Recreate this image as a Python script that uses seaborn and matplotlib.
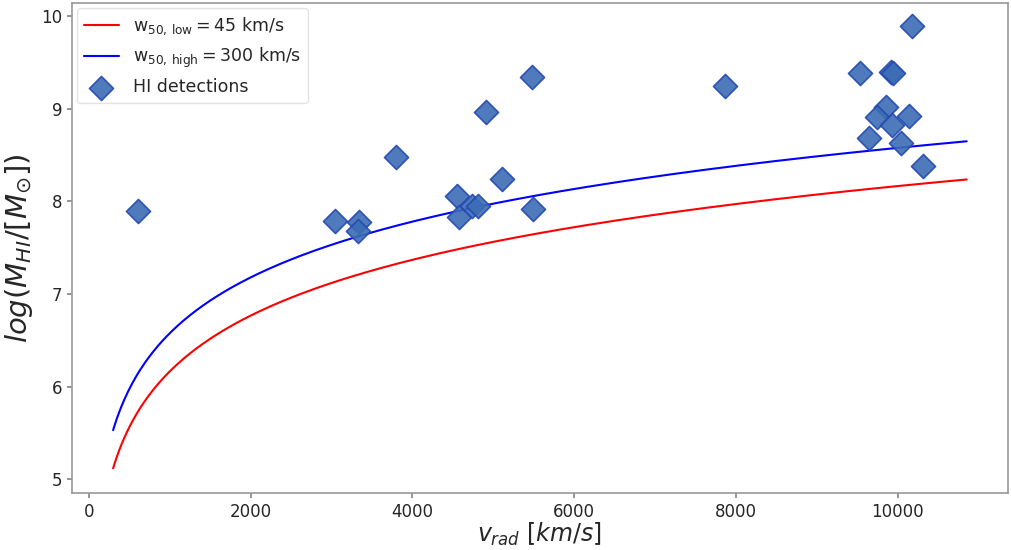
import numpy as np
import pandas as pd
import matplotlib
matplotlib.use("Agg")
import matplotlib.pyplot as plt
import seaborn as sns

# HI detections
v_rad = [606, 3040, 3336, 3324, 3793, 4547, 4572, 4733, 4807, 4906, 5103, 5474,
         5486, 7859, 9527, 9910, 9934, 9848, 9737, 10132, 9922, 9638, 10034,
         10305, 10170]
log_mhi = [7.90, 7.785, 7.774, 7.68, 8.48, 8.06, 7.83, 7.95, 7.95, 8.96, 8.24,
           9.34, 7.92, 9.24, 9.39, 9.40, 9.38, 9.02, 8.91, 8.92, 8.82, 8.68,
           8.63, 8.38, 9.89]

# detection-limit model: log M = C + 2 log v + 0.5 log w50
W50_LOW = 45
W50_HIGH = 300
LIMIT_CONST = -0.661
V_MIN, V_MAX = 300, 10850

sns.set_theme(style="ticks")
plt.rcParams['font.family'] = ['DejaVu Sans']
plt.rcParams['mathtext.fontset'] = 'dejavusans'

fig = plt.figure(figsize=(10.12, 5.5), dpi=100)
ax = fig.add_axes([0.071, 0.103, 0.925, 0.8915])

v = np.linspace(V_MIN, V_MAX, 400)
curves = pd.DataFrame({
    "v": np.concatenate([v, v]),
    "logM": np.concatenate([LIMIT_CONST + 2 * np.log10(v) + 0.5 * np.log10(W50_LOW),
                            LIMIT_CONST + 2 * np.log10(v) + 0.5 * np.log10(W50_HIGH)]),
    "curve": ["low"] * len(v) + ["high"] * len(v),
})
sns.lineplot(data=curves[curves.curve == "low"], x="v", y="logM", color="red", lw=1.5,
             ax=ax, label=r"$\mathrm{w_{50,\,low}} = 45$ km/s")
sns.lineplot(data=curves[curves.curve == "high"], x="v", y="logM", color="blue", lw=1.5,
             ax=ax, label=r"$\mathrm{w_{50,\,high}} = 300$ km/s")

det = pd.DataFrame({"v": v_rad, "logM": log_mhi})
sns.scatterplot(data=det, x="v", y="logM", marker="D", s=150, color="#3c6db5",
                edgecolor="#2448b0", linewidth=1.2, alpha=0.9, ax=ax,
                label="HI detections", zorder=3)

ax.set_xlim(-210, 11360)
ax.set_ylim(4.85, 10.14)
ax.set_xticks([0, 2000, 4000, 6000, 8000, 10000])
ax.set_yticks([5, 6, 7, 8, 9, 10])
ax.tick_params(labelsize=12, length=3.5, color="#888888")
for s in ax.spines.values():
    s.set_color("#999999")
    s.set_linewidth(1.2)

ax.set_xlabel(r"$v_{rad}\ [km/s]$", fontsize=17, labelpad=0)
ax.set_ylabel(r"$log(M_{HI}/[M_{\odot}])$", fontsize=21, labelpad=4)

leg = ax.legend(loc="upper left", fontsize=12.5, frameon=True, framealpha=0.8,
                edgecolor="#dddddd", borderaxespad=0.3)

fig.savefig("out.png", dpi=100)
